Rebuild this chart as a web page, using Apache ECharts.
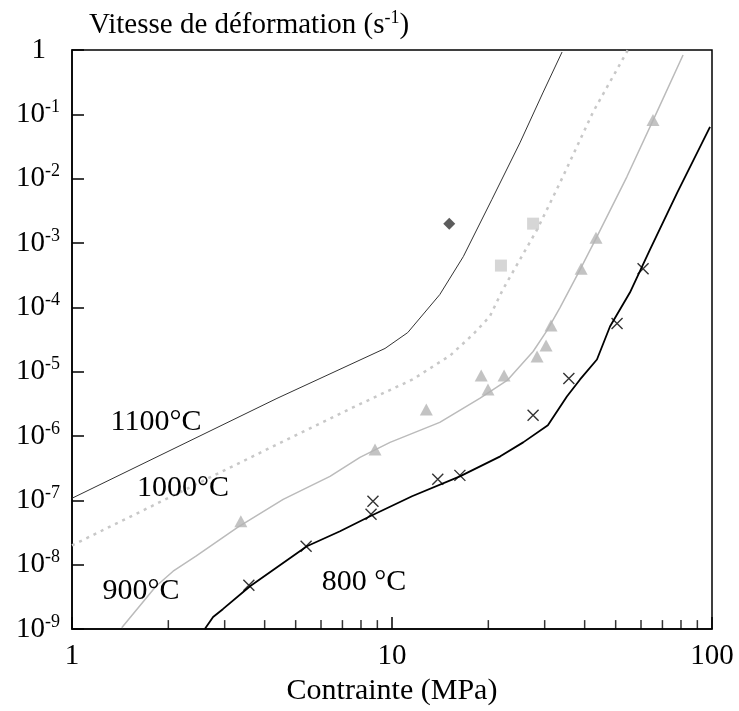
<!DOCTYPE html>
<html><head><meta charset="utf-8">
<script src="https://cdn.jsdelivr.net/npm/echarts@6/dist/echarts.min.js"></script>
<style>html,body{margin:0;padding:0;background:#fff}#c{width:739px;height:711px}</style>
</head><body><div id="c"></div>
<script>
// ---- data ----
const x1100 = [1, 4.37, 9.51, 11.2, 14.1, 16.7, 20.5, 25.1, 29.6, 34.0];
const y1100 = [1.08e-7, 3.85e-6, 2.30e-5, 4.06e-5, 1.58e-4, 6.14e-4, 4.71e-3, 0.036, 0.215, 0.93];
const xDiamond = [15.1];
const yDiamond = [2.0e-3];

const x1000 = [1, 4.57, 7.55, 11.6, 15.2, 17.9, 20.2, 22.2, 25.1, 28.4, 33.5, 42.5, 54.6];
const y1000 = [2.0e-8, 8.26e-7, 2.79e-6, 7.59e-6, 1.79e-5, 3.79e-5, 7.19e-5, 1.89e-4, 5.52e-4, 1.61e-3, 8.65e-3, 0.109, 1.0];
const xSquare = [27.6, 21.9];
const ySquare = [2.0e-3, 4.46e-4];

const x900 = [1.43, 1.83, 2.07, 2.44, 3.30, 4.57, 6.40, 7.94, 9.86, 14.1, 18.8, 22.9, 27.6, 30.5, 33.5, 38.7, 43.7, 54.2, 67.3, 81.2];
const y900 = [1.05e-9, 4.64e-9, 7.94e-9, 1.36e-8, 3.83e-8, 1.04e-7, 2.36e-7, 4.67e-7, 7.98e-7, 1.63e-6, 3.85e-6, 7.31e-6, 2.06e-5, 4.36e-5, 9.93e-5, 3.86e-4, 1.26e-3, 0.0107, 0.109, 0.838];
const xTriangle = [3.37, 8.85, 12.8, 19.0, 19.95, 22.4, 28.4, 30.3, 31.4, 39.0, 43.4, 65.4];
const yTriangle = [4.74e-8, 6.21e-7, 2.59e-6, 8.75e-6, 5.30e-6, 8.75e-6, 1.72e-5, 2.55e-5, 5.23e-5, 4.0e-4, 1.21e-3, 0.082];

const x800 = [2.60, 2.76, 2.96, 3.60, 5.42, 6.88, 8.54, 11.55, 16.3, 21.8, 25.7, 30.7, 35.2, 38.7, 43.7, 48.0, 55.4, 64.0, 77.8, 98.6];
const y800 = [1.0e-9, 1.54e-9, 2.04e-9, 4.64e-9, 1.94e-8, 3.32e-8, 5.68e-8, 1.16e-7, 2.36e-7, 4.84e-7, 7.98e-7, 1.47e-6, 4.13e-6, 7.59e-6, 1.55e-5, 5.04e-5, 1.70e-4, 7.89e-4, 6.04e-3, 0.064];
const xCross = [3.57, 5.39, 8.72, 8.60, 13.9, 16.3, 27.6, 35.7, 50.5, 60.9];
const yCross = [4.8e-9, 1.94e-8, 9.68e-8, 6.10e-8, 2.13e-7, 2.45e-7, 2.10e-6, 7.85e-6, 5.61e-5, 4.0e-4];

const xMinorTicks = [2, 3, 4, 5, 6, 7, 8, 9, 20, 30, 40, 50, 60, 70, 80, 90];
const xTickLabels = ['1', '10', '100'];
const yTickExponents = [-9, -8, -7, -6, -5, -4, -3, -2, -1, 0];
const curveLabels = ['1100°C', '1000°C', '900°C', '800 °C'];
const titleText = 'Vitesse de déformation (s{s|-1})';
const xName = 'Contrainte (MPa)';

// ---- chart ----
const FONT = '"Liberation Serif", "Times New Roman", serif';
const pairs = (xs, ys) => xs.map((x, i) => [x, ys[i]]);
const chart = echarts.init(document.getElementById('c'));
const supStyle = { fontFamily: FONT, fontSize: 18, lineHeight: 18, verticalAlign: 'top', color: '#000' };

const labelAt = (text, x, y) => ({
  type: 'text', x: x, y: y, z: 10,
  style: { text: text, font: '30px ' + FONT, fill: '#000', align: 'center', verticalAlign: 'middle',
    textAlign: 'center', textVerticalAlign: 'middle' }
});

const option = {
  animation: false,
  backgroundColor: '#fff',
  title: {
    text: titleText, left: 84, top: 4,
    textStyle: { fontFamily: FONT, fontSize: 29, fontWeight: 'normal', color: '#000', lineHeight: 32,
      rich: { s: supStyle } }
  },
  grid: { left: 72, right: 27, top: 50, bottom: 81, show: true, borderColor: '#000', borderWidth: 1.5, backgroundColor: 'transparent' },
  xAxis: {
    type: 'log', logBase: 10, min: 1, max: 100,
    axisLine: { show: true, lineStyle: { color: '#000', width: 1.5 } },
    axisTick: { inside: true, length: 12, lineStyle: { color: '#000', width: 1.5 } },
    axisLabel: { color: '#000', fontFamily: FONT, fontSize: 29, margin: 13,
      formatter: v => xTickLabels[Math.round(Math.log10(v))] },
    splitLine: { show: false },
    name: xName, nameLocation: 'middle', nameGap: 45,
    nameTextStyle: { color: '#000', fontFamily: FONT, fontSize: 30 }
  },
  yAxis: {
    type: 'log', logBase: 10, min: 1e-9, max: 1,
    axisLine: { show: true, lineStyle: { color: '#000', width: 1.5 } },
    axisTick: { inside: true, length: 12, lineStyle: { color: '#000', width: 1.5 } },
    axisLabel: { color: '#000', fontFamily: FONT, fontSize: 29, margin: 12, lineHeight: 32,
      formatter: v => {
        const e = Math.round(Math.log10(v));
        if (yTickExponents.indexOf(e) < 0) return '';
        return e === 0 ? '1{sp|}' : '10{s|' + e + '}';
      },
      rich: { s: supStyle, sp: { width: 14 } } },
    splitLine: { show: false }
  },
  graphic: [
    labelAt(curveLabels[0], 156, 422),
    labelAt(curveLabels[1], 183, 488),
    labelAt(curveLabels[2], 141, 591),
    labelAt(curveLabels[3], 364, 582)
  ],
  series: [
    { type: 'scatter', data: xMinorTicks.map(v => [v, 1e-9]), symbol: 'rect', symbolSize: [1.5, 9], symbolOffset: [0, -4.5],
      itemStyle: { color: '#000' }, silent: true, clip: false, z: 5 },
    { type: 'line', data: pairs(x1100, y1100), symbol: 'none', lineStyle: { color: '#333', width: 1 }, z: 2 },
    { type: 'line', data: pairs(x1000, y1000), symbol: 'none', lineStyle: { color: '#c8c8c8', width: 2.5, type: [3, 5] }, z: 2 },
    { type: 'line', data: pairs(x900, y900), symbol: 'none', lineStyle: { color: '#bbbbbb', width: 1.5 }, z: 2 },
    { type: 'line', data: pairs(x800, y800), symbol: 'none', lineStyle: { color: '#000', width: 1.8 }, z: 2 },
    { type: 'scatter', data: pairs(xDiamond, yDiamond), symbol: 'diamond', symbolSize: 12, itemStyle: { color: '#333' }, z: 3 },
    { type: 'scatter', data: pairs(xSquare, ySquare), symbol: 'rect', symbolSize: 12, itemStyle: { color: '#cccccc' }, z: 3 },
    { type: 'scatter', data: pairs(xTriangle, yTriangle), symbol: 'triangle', symbolSize: [13, 12], itemStyle: { color: '#b4b4b4' }, z: 3 },
    { type: 'scatter', data: pairs(xCross, yCross), symbol: 'path://M0,0L12,12M12,0L0,12', symbolSize: 11,
      itemStyle: { color: 'transparent', borderColor: '#000', borderWidth: 1.4 }, z: 4 }
  ]
};
chart.setOption(option);
</script></body></html>
